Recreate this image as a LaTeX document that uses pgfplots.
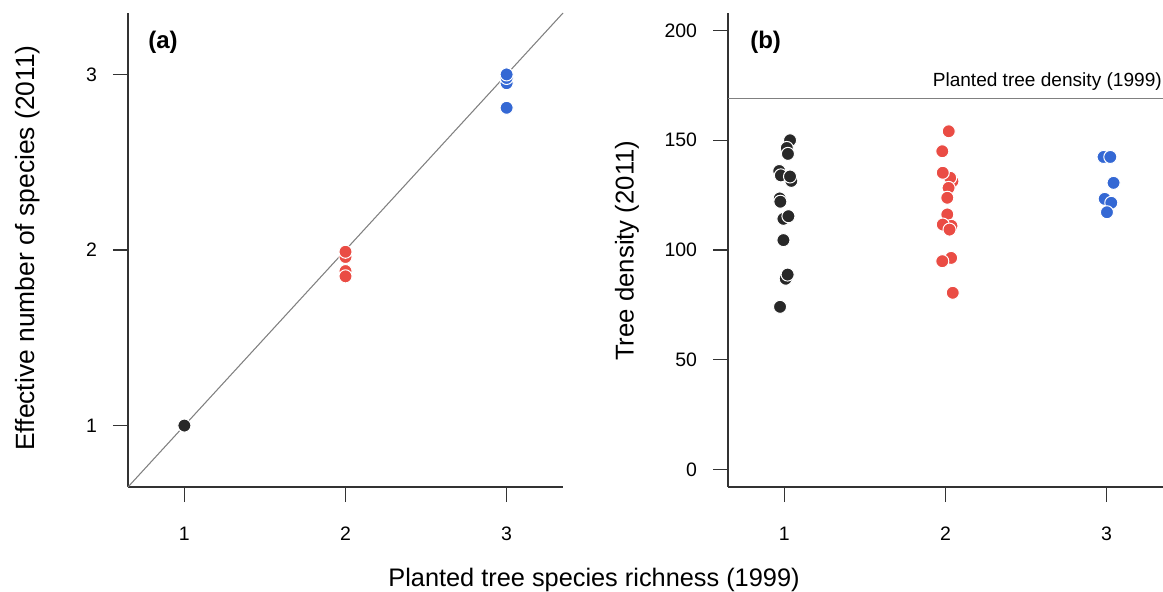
\documentclass[border=0pt]{standalone}
\usepackage{pgfplots}
\pgfplotsset{compat=1.18}
\usepackage{fontspec}
\setmainfont{Liberation Sans}

\definecolor{ptblack}{RGB}{40,40,40}
\definecolor{ptred}{RGB}{234,76,68}
\definecolor{ptblue}{RGB}{52,104,212}
\definecolor{axisgray}{RGB}{51,51,51}
\definecolor{refgray}{RGB}{128,128,128}

\pgfplotsset{
  rpanel/.style={
    scale only axis, width=326.25pt, height=355.5pt,
    anchor=north west,
    axis lines*=left,
    axis line style={axisgray, line width=0.9pt},
    tick align=outside, major tick length=11.25pt,
    major tick style={axisgray, line width=0.9pt},
    xmin=0.65, xmax=3.35, xtick={1,2,3},
    ticklabel style={font=\fontsize{14.6}{17}\selectfont, inner sep=0pt},
    /pgf/number format/assume math mode=true,
    xticklabel style={anchor=north, yshift=-18.75pt},
    yticklabel style={anchor=east, xshift=-11.75pt},
    clip=false,
  },
  dots/.style={only marks, mark=*, mark size=4.9pt,
    mark options={draw=white, line width=0.75pt, fill=#1}},
}

\begin{document}
\begin{tikzpicture}
\useasboundingbox (0,0) rectangle (872.25pt,-444pt);

% (a) effective number of species against planted richness
\begin{axis}[rpanel, at={(96pt,-9.75pt)},
  ymin=0.65, ymax=3.35, ytick={1,2,3}]
  \addplot[refgray, line width=0.8pt, no marks] coordinates {(0.65,0.65) (3.35,3.35)};
  \addplot[dots=ptblack] coordinates {(1,1)};
  \addplot[dots=ptred] coordinates {(2,1.96) (2,1.99) (2,1.88) (2,1.85)};
  \addplot[dots=ptblue] coordinates {(3,2.81) (3,2.95) (3,2.98) (3,3.00)};
\end{axis}

% (b) tree density against planted richness
\begin{axis}[rpanel, at={(546pt,-9.75pt)},
  ymin=-8, ymax=208, ytick={0,50,100,150,200}]
  \addplot[refgray, line width=0.8pt, no marks] coordinates {(0.65,169) (3.35,169)};
  \addplot[dots=ptblack] coordinates {
    (1.035,150.0) (1.015,146.5) (1.022,143.8)
    (0.968,136.0) (0.978,134.0) (1.043,131.5) (1.035,133.5)
    (0.971,123.5) (0.975,122.0)
    (0.994,114.2) (1.025,115.4)
    (0.994,104.5)
    (1.008,86.9) (1.020,88.8)
    (0.973,74.1)};
  \addplot[dots=ptred] coordinates {
    (2.020,154.1) (1.980,145.0)
    (2.043,131.3) (2.029,132.9) (1.983,135.2) (2.019,128.3) (2.011,123.8)
    (2.011,116.2)
    (2.037,111.0) (1.983,111.6) (2.025,109.3)
    (2.035,96.4) (1.980,94.9)
    (2.045,80.5)};
  \addplot[dots=ptblue] coordinates {
    (2.981,142.4) (3.023,142.4)
    (3.043,130.6)
    (2.988,123.3) (3.029,121.5)
    (3.002,117.2)};
\end{axis}

% panel tags, axis titles and the reference-line note
\node[anchor=base west, inner sep=0pt, font=\fontsize{18}{21}\selectfont\bfseries] at (111pt,-36.5pt) {(a)};
\node[anchor=base west, inner sep=0pt, font=\fontsize{18}{21}\selectfont\bfseries] at (562.5pt,-36.5pt) {(b)};
\node[anchor=base east, inner sep=0pt, font=\fontsize{14.3}{17}\selectfont] at (871.5pt,-64.5pt) {Planted tree density (1999)};
\node[rotate=90, font=\fontsize{19.8}{23}\selectfont] at (21pt,-186pt) {Effective number of species (2011)};
\node[rotate=90, font=\fontsize{19.3}{23}\selectfont] at (470.25pt,-188pt) {Tree density (2011)};
\node[anchor=base, font=\fontsize{19}{23}\selectfont] at (445.5pt,-439.5pt) {Planted tree species richness (1999)};
\end{tikzpicture}
\end{document}
